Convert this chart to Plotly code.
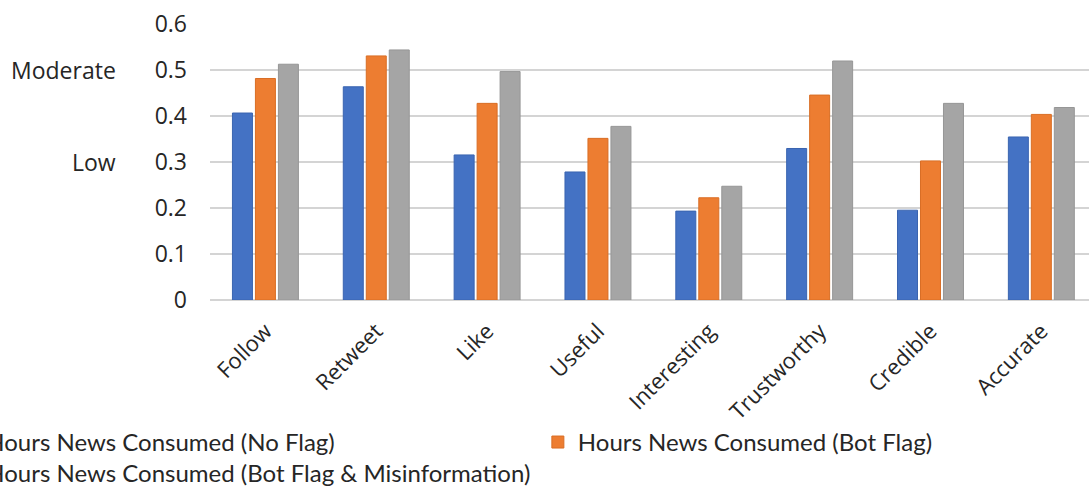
import plotly.graph_objects as go

categories = ["Follow", "Retweet", "Like", "Useful", "Interesting",
              "Trustworthy", "Credible", "Accurate"]
no_flag = [0.406, 0.463, 0.315, 0.278, 0.193, 0.329, 0.195, 0.354]
bot_flag = [0.481, 0.530, 0.427, 0.351, 0.222, 0.445, 0.302, 0.403]
bot_flag_misinfo = [0.512, 0.543, 0.496, 0.377, 0.247, 0.519, 0.427, 0.418]

series_names = [
    "Hours News Consumed (No Flag)",
    "Hours News Consumed (Bot Flag)",
    "Hours News Consumed (Bot Flag & Misinformation)",
]
series_colors = ["#4472C4", "#ED7D31", "#A5A5A5"]
series_lines = ["#3A64B0", "#D96E25", "#969696"]
y_ticks = [0, 0.1, 0.2, 0.3, 0.4, 0.5, 0.6]
y_tick_text = ["0", "0.1", "0.2", "0.3", "0.4", "0.5", "0.6"]
level_labels = [("Moderate", 0.5), ("Low", 0.3)]

TEXT = "#262626"
fig = go.Figure()
# each legend entry gets its own legend box so the rows can be placed freely
legends = ["legend", "legend2", "legend3"]
for name, vals, col, lcol, lg in zip(series_names,
                                     [no_flag, bot_flag, bot_flag_misinfo],
                                     series_colors, series_lines, legends):
    fig.add_trace(go.Bar(
        x=categories, y=vals, name=name, legend=lg,
        marker=dict(color=col, line=dict(color=lcol, width=1)),
    ))

for text, yv in level_labels:
    fig.add_annotation(
        x=-0.105, y=yv, xref="paper", yref="y", text=text, showarrow=False,
        xanchor="right", yanchor="middle",
        font=dict(family="Open Sans", size=23, color=TEXT),
    )

legend_font = dict(family="Lato, Liberation Sans, sans-serif", size=24, color=TEXT)


def legend_box(x, y):
    return dict(orientation="v", x=x, y=y, xanchor="left", yanchor="top",
                font=legend_font, bgcolor="rgba(0,0,0,0)")


fig.update_layout(
    width=1089, height=486,
    margin=dict(l=210, r=0, t=23, b=186, autoexpand=False),
    paper_bgcolor="white", plot_bgcolor="white",
    barmode="group", bargap=0.378, bargroupgap=0.13,
    showlegend=True,
    legend=legend_box(-0.30, -0.433),
    legend2=legend_box(0.373, -0.433),
    legend3=legend_box(-0.30, -0.542),
    xaxis=dict(
        range=[-0.5, 7.43], tickangle=-45, showgrid=False, showline=False,
        ticks="", ticklabelstandoff=13,
        tickfont=dict(family="Open Sans", size=22, color=TEXT),
        zeroline=False,
    ),
    yaxis=dict(
        range=[0, 0.6015], tickvals=y_ticks, ticktext=y_tick_text,
        showgrid=True, gridcolor="#D4D4D4", gridwidth=2,
        zeroline=True, zerolinecolor="#D4D4D4", zerolinewidth=2,
        ticks="", ticklabelstandoff=22,
        tickfont=dict(family="Open Sans", size=23, color=TEXT),
    ),
)

fig.write_html("out.html")
